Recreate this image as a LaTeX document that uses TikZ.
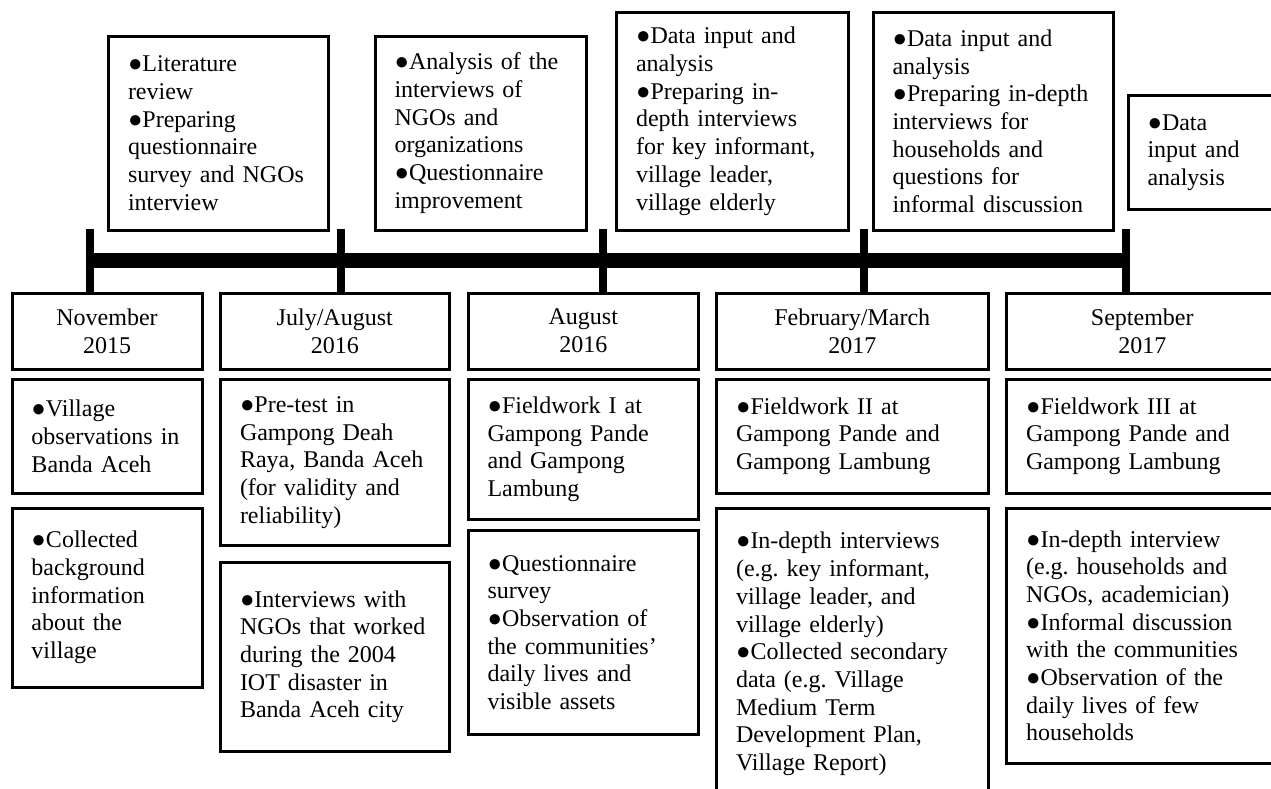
\documentclass[tikz,border=0pt]{standalone}
\usepackage{fontspec}
\setmainfont{Liberation Serif}
\begin{document}
\frenchspacing
\begin{tikzpicture}[x=1pt,y=-1pt,
  frame/.style={draw, line width=3pt, outer sep=0pt, inner sep=0pt,
    anchor=north west, font=\fontsize{24}{27.7}\selectfont},
  box/.style={frame, align=left, execute at begin node={\leftskip=19.5pt\relax}},
  datebox/.style={frame, align=center},
  sz/.style 2 args={text width=#1, minimum width=#1, minimum height=#2},
  tick/.style={line width=8pt},
  bar/.style={line width=15pt}]
\useasboundingbox (0,0) rectangle (1271,788);

% activities before each period (above the time line)
\node[box, sz={219.5}{194.5}] (t1) at (108.5,36)
  {●Literature\\review\\●Preparing\\questionnaire\\survey and NGOs\\interview};
\node[box, sz={211.5}{194.5}] (t2) at (375,36)
  {●Analysis of the\\interviews of\\NGOs and\\organizations\\●Questionnaire\\improvement};
\node[box, sz={231.5}{218.5}] (t3) at (616.5,12)
  {●Data input and\\analysis\\●Preparing in-\\depth interviews\\for key informant,\\village leader,\\village elderly};
\node[box, sz={240}{218.5}] (t4) at (873,12)
  {●Data input and\\analysis\\●Preparing in-depth\\interviews for\\households and\\questions for\\informal discussion};
\node[box, sz={150}{114}] (t5) at (1128,95.5)
  {●Data\\input and\\analysis};

% time line
\coordinate (k1) at (90,229);
\coordinate (k2) at (341,229);
\coordinate (k3) at (603,229);
\coordinate (k4) at (864,229);
\coordinate (k5) at (1125.5,229);
\coordinate (bl) at (86,260.5);
\coordinate (br) at (1129.5,260.5);

% periods
\node[datebox, sz={190}{76}] (d1) at (12,293) {November\\2015};
\node[datebox, sz={228.5}{76}] (d2) at (220.5,293) {July/August\\2016};
\node[datebox, sz={230.5}{76}] (d3) at (468,293) {August\\2016};
\node[datebox, sz={271.5}{76}] (d4) at (716.5,293) {February/March\\2017};
\node[datebox, sz={271.5}{76}] (d5) at (1006.5,293) {September\\2017};

\draw[bar] (bl) -- (br);
\foreach \k/\d in {k1/d1, k2/d2, k3/d3, k4/d4, k5/d5}
  \draw[tick] (\k) -- (\k |- \d.north);

% fieldwork in each period
\node[box, sz={190}{113.5}] (r1) at (12,379.5)
  {●Village\\observations in\\Banda Aceh};
\node[box, sz={228.5}{166}] (r2) at (220.5,379.5)
  {●Pre-test in\\Gampong Deah\\Raya, Banda Aceh\\(for validity and\\reliability)};
\node[box, sz={230.5}{139.5}] (r3) at (468,379.5)
  {●Fieldwork I at\\Gampong Pande\\and Gampong\\Lambung};
\node[box, sz={271.5}{113.5}] (r4) at (716.5,379.5)
  {●Fieldwork II at\\Gampong Pande and\\Gampong Lambung};
\node[box, sz={271.5}{113.5}] (r5) at (1006.5,379.5)
  {●Fieldwork III at\\Gampong Pande and\\Gampong Lambung};

\node[box, sz={190}{179}] (s1) at (12,508)
  {●Collected\\background\\information\\about the\\village};
\node[box, sz={228.5}{189.5}] (s2) at (220.5,562)
  {●Interviews with\\NGOs that worked\\during the 2004\\IOT disaster in\\Banda Aceh city};
\node[box, sz={230.5}{204}] (s3) at (468,530.5)
  {●Questionnaire\\survey\\●Observation of\\the communities’\\daily lives and\\visible assets};
\node[box, sz={271.5}{292}] (s4) at (716.5,508)
  {●In-depth interviews\\(e.g. key informant,\\village leader, and\\village elderly)\\●Collected secondary\\data (e.g. Village\\Medium Term\\Development Plan,\\Village Report)};
\node[box, sz={271.5}{255.5}] (s5) at (1006.5,508)
  {●In-depth interview\\(e.g. households and\\NGOs, academician)\\●Informal discussion\\with the communities\\●Observation of the\\daily lives of few\\households};
\end{tikzpicture}
\end{document}
